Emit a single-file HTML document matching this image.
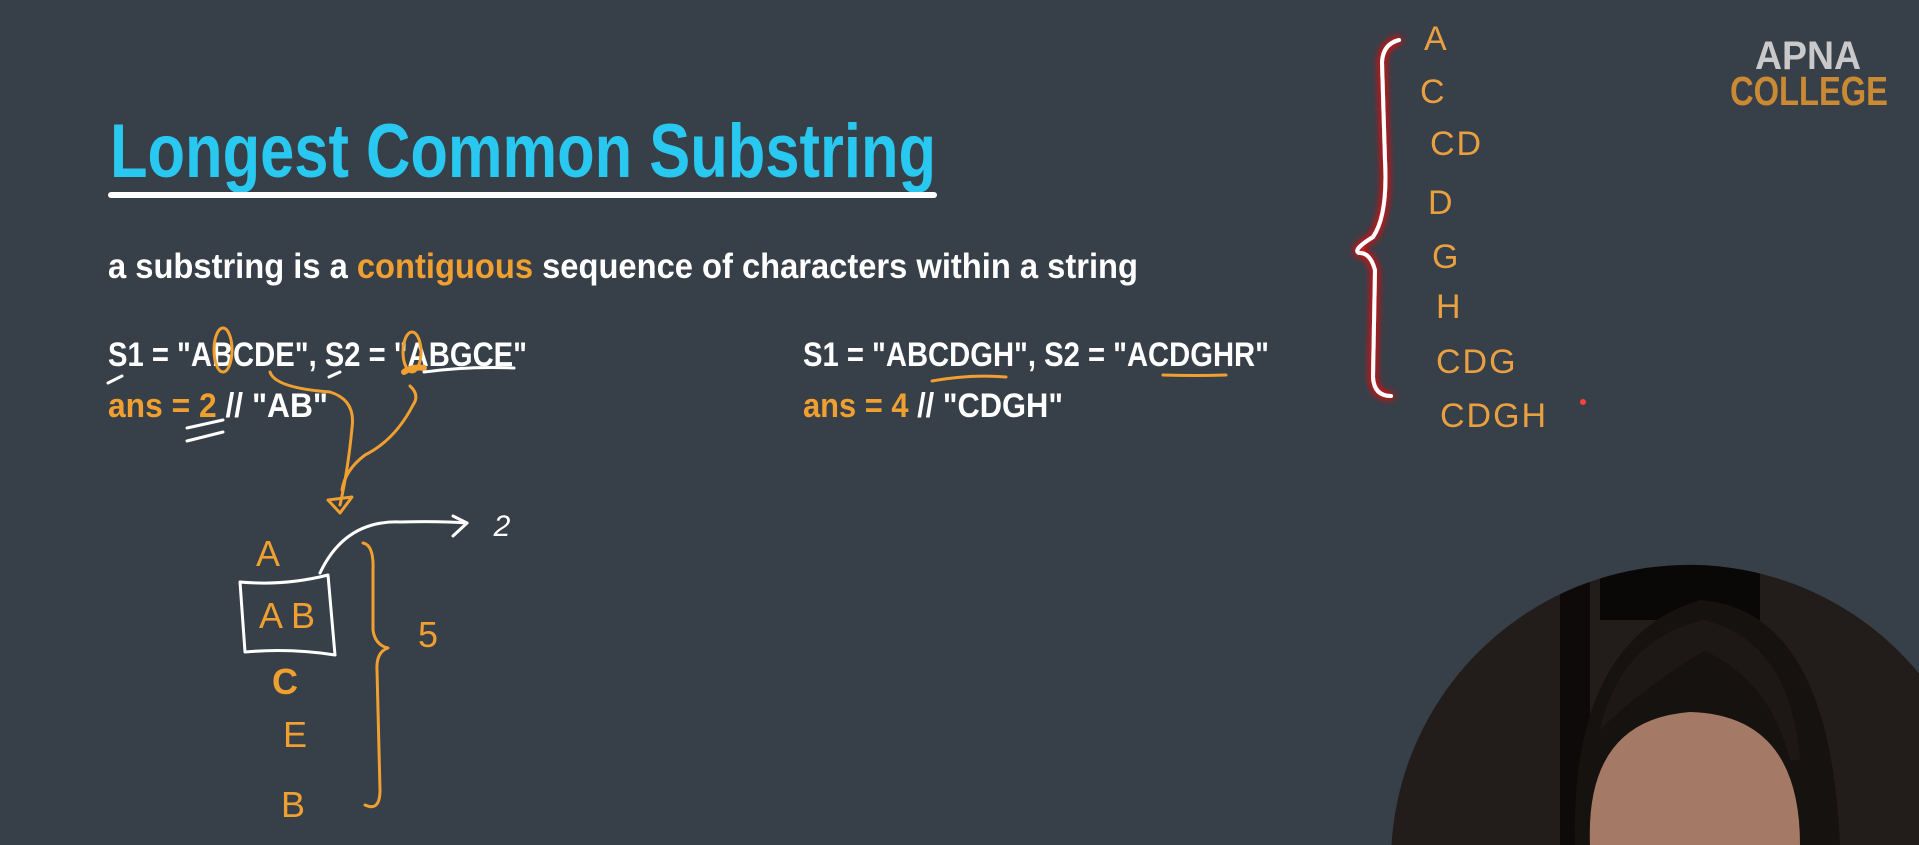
<!DOCTYPE html>
<html><head><meta charset="utf-8"><style>
html,body{margin:0;padding:0;background:#373f48;width:1919px;height:845px;overflow:hidden;}
svg{display:block}
</style></head><body>
<svg width="1919" height="845" viewBox="0 0 1919 845" xmlns="http://www.w3.org/2000/svg">
<defs>
<filter id="glow" x="-50%" y="-10%" width="200%" height="120%">
<feGaussianBlur in="SourceAlpha" stdDeviation="4" result="b"/>
<feFlood flood-color="#ff1010"/><feComposite in2="b" operator="in" result="g"/>
<feMerge><feMergeNode in="g"/><feMergeNode in="g"/><feMergeNode in="SourceGraphic"/></feMerge>
</filter>
<clipPath id="cc"><path d="M1391.5 845 A298 298 0 0 1 1919 673.5 L1919 845 Z"/></clipPath>
</defs>
<rect width="1919" height="845" fill="#373f48"/>

<text x="110" y="177" font-family="Liberation Sans Narrow, Liberation Sans, sans-serif" font-weight="bold" font-size="76" fill="#29c8f0" textLength="826" lengthAdjust="spacingAndGlyphs">Longest Common Substring</text>
<rect x="108" y="192" width="829" height="6" rx="3" fill="#ffffff"/>

<g font-family="Liberation Sans Narrow, Liberation Sans, sans-serif" font-weight="bold" fill="#ffffff">
<text x="108" y="278" font-size="35" textLength="1030" lengthAdjust="spacingAndGlyphs">a substring is a <tspan fill="#f0a030">contiguous</tspan> sequence of characters within a string</text>
<text x="108" y="366" font-size="34" textLength="419" lengthAdjust="spacingAndGlyphs">S1 = "ABCDE", S2 = "ABGCE"</text>
<text x="108" y="417" font-size="34" textLength="220" lengthAdjust="spacingAndGlyphs"><tspan fill="#f0a030">ans = 2</tspan> // "AB"</text>
<text x="803" y="366" font-size="34" textLength="466" lengthAdjust="spacingAndGlyphs">S1 = "ABCDGH", S2 = "ACDGHR"</text>
<text x="803" y="417" font-size="34" textLength="260" lengthAdjust="spacingAndGlyphs"><tspan fill="#f0a030">ans = 4</tspan> // "CDGH"</text>
</g>

<g fill="none" stroke-linecap="round" stroke-linejoin="round">
<ellipse cx="223" cy="350" rx="9" ry="22" stroke="#f0a030" stroke-width="3"/>
<ellipse cx="412" cy="352" rx="9" ry="20" stroke="#f0a030" stroke-width="3"/>
<path d="M404 372 Q412 366 424 368" stroke="#f0a030" stroke-width="6"/>
<path d="M108 383 L122 376" stroke="#fff" stroke-width="3"/>
<path d="M329 377 L340 372" stroke="#fff" stroke-width="3"/>
<path d="M424 372 Q470 366 514 368" stroke="#fff" stroke-width="3"/>
<path d="M187 428 L223 420 M187 441 L223 432" stroke="#fff" stroke-width="3"/>
<path d="M932 381 Q970 374 1006 377" stroke="#f0a030" stroke-width="3"/>
<path d="M1163 375 Q1195 376 1226 375" stroke="#f0a030" stroke-width="3"/>
<path d="M270 372 Q275 388 330 392 Q356 400 352 428 Q348 470 340 505" stroke="#f0a030" stroke-width="3"/>
<path d="M410 386 Q420 395 413 405 Q395 440 365 455 Q345 470 342 490" stroke="#f0a030" stroke-width="3"/>
<path d="M328 500 L352 497 L340 513 Z" stroke="#f0a030" stroke-width="3"/>
<path d="M240 582 Q285 586 328 575 L335 655 Q290 648 245 652 Z" stroke="#fff" stroke-width="3"/>
<path d="M320 573 Q345 520 400 522 Q440 521 467 523" stroke="#fff" stroke-width="3"/>
<path d="M453 516 L467 523 L453 536" stroke="#fff" stroke-width="3"/>
<path d="M363 543 Q374 545 373 570 L373 630 Q375 645 388 648 Q376 652 377 670 L380 790 Q380 812 365 805" stroke="#f0a030" stroke-width="3"/>
</g>
<g font-family="Liberation Sans, sans-serif" fill="#f0a030" font-size="36" text-anchor="middle">
<text x="268" y="566">A</text>
<text x="287" y="628">A B</text>
<text x="285" y="694" font-weight="bold">C</text>
<text x="295" y="747">E</text>
<text x="293" y="817">B</text>
<text x="428" y="647">5</text>
<text x="502" y="536" fill="#fff" font-size="30" font-style="italic">2</text>
</g>

<path d="M1399 40 Q1383 44 1382 62 L1385 160 Q1388 215 1373 237 Q1352 250 1359 253 Q1370 252 1375 270 L1373 377 Q1374 396 1391 396" fill="none" stroke="#fff" stroke-width="4" stroke-linecap="round" filter="url(#glow)"/>
<circle cx="1583" cy="402" r="3" fill="#ff4040"/>

<g font-family="Liberation Sans, sans-serif" fill="#e8a040" font-size="34" letter-spacing="2">
<text x="1424" y="50">A</text>
<text x="1420" y="103">C</text>
<text x="1430" y="155">CD</text>
<text x="1428" y="214">D</text>
<text x="1432" y="268">G</text>
<text x="1436" y="318">H</text>
<text x="1436" y="373">CDG</text>
<text x="1440" y="427">CDGH</text>
</g>

<g font-family="Liberation Sans, sans-serif" font-weight="bold">
<text x="1755" y="69" font-size="40" fill="#c9c9cb" textLength="106" lengthAdjust="spacingAndGlyphs">APNA</text>
<text x="1730" y="105" font-size="41" fill="#c98a33" textLength="158" lengthAdjust="spacingAndGlyphs">COLLEGE</text>
</g>

<path d="M1391.5 845 A298 298 0 0 1 1919 673.5 L1919 845 Z" fill="#221d1a"/>
<g clip-path="url(#cc)">
<rect x="1560" y="560" width="30" height="285" fill="#0d0a09"/>
<rect x="1600" y="560" width="160" height="60" fill="#0a0807"/>
<path d="M1575 845 Q1570 640 1700 600 Q1830 610 1840 845 Z" fill="#161210"/>
<path d="M1590 845 Q1585 720 1690 712 Q1800 715 1800 845 Z" fill="#a47a66"/>
<path d="M1600 730 Q1640 690 1705 650 L1703 620 Q1620 640 1600 730 Z" fill="#1d1816"/>
<path d="M1703 620 Q1790 640 1800 760 L1790 760 Q1770 680 1703 650 Z" fill="#1d1816"/>
</g>
</svg>
</body></html>
